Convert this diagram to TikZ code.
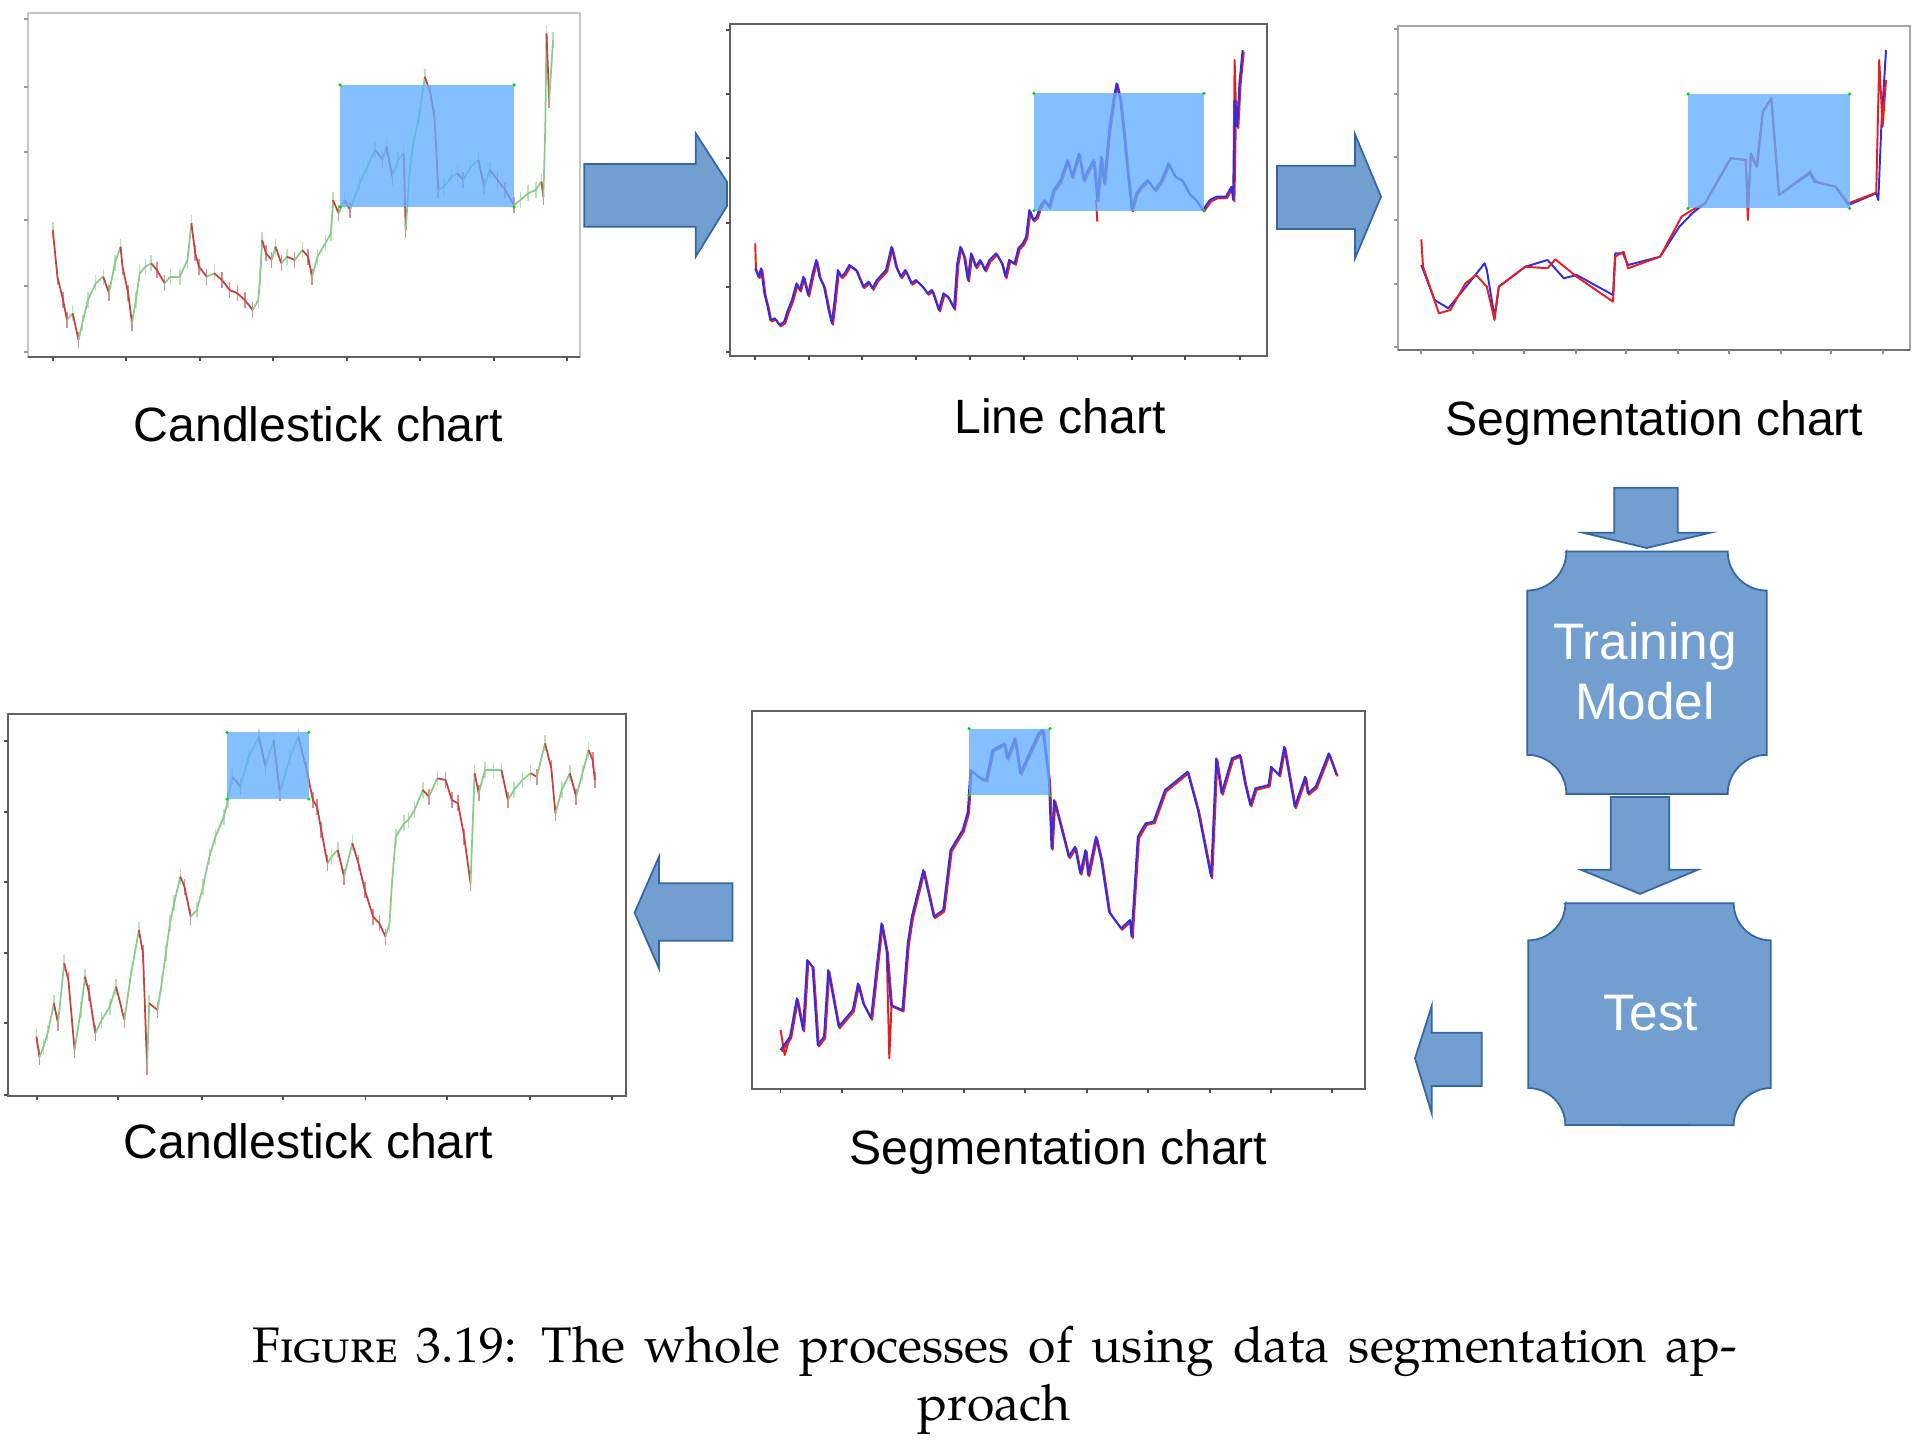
\documentclass[tikz,border=0pt]{standalone}
\usepackage{fontspec}
\setmainfont{Liberation Sans}
\newfontfamily\capfont{TeX Gyre Pagella}
\usetikzlibrary{positioning}

\definecolor{shapefill}{RGB}{114,159,207}
\definecolor{shapeline}{RGB}{52,101,164}
\definecolor{selblue}{RGB}{98,174,255}
\definecolor{candup}{RGB}{135,205,135}
\definecolor{candown}{RGB}{200,65,65}
\definecolor{predblue}{RGB}{45,45,235}
\definecolor{realred}{RGB}{232,30,30}

\tikzset{
  bigarrow/.style = {draw = shapeline, fill = shapefill, line width = 0.5pt},
  axisline/.style = {line width = 0.6pt},
  tick/.style = {draw = black!70, line width = 0.5pt},
  candle/.style = {line width = 0.5pt},
  wick/.style = {line width = 0.45pt, draw opacity = 0.6},
  blueline/.style = {draw = predblue, line width = 0.55pt, line join = round},
  redline/.style = {draw = realred, line width = 0.55pt, line join = round},
  chartlabel/.style = {font = \fontsize{13.7}{16}\selectfont, anchor = base, inner sep = 0pt},
  boxtext/.style = {font = \fontsize{14.6}{17}\selectfont, text = white, align = center, inner sep = 0pt},
  captext/.style = {font = \capfont\fontsize{14.2}{17}\selectfont, inner sep = 0pt}
}

% price data, in pixels of the figure
\def\candleA{52.8/230, 57.4/276.7, 63.1/300, 67/320, 72.7/313.3, 78.5/340, 82.3/323.3, 88/300, 95.7/283.3, 103.3/276.7, 109/293.3, 114.8/263.3, 120.6/246.7, 122.5/266.7, 128.2/293.3, 132/323.3, 135.9/300, 139.7/273.3, 145.4/266.7, 151.2/263.3, 156.9/270, 164.6/283.3, 170.3/276.7, 179.9/276.7, 187.5/260, 191.4/223.3, 195.2/253.3, 199/266.7, 206.7/276.7, 214.3/273.3, 222/280, 229.6/290, 237.3/293.3, 244.9/300, 252.6/310, 258.3/300, 260.2/276.7, 262.1/240, 266/253.3, 271.7/260, 275.5/246.7, 281.3/263.3, 287/256.7, 294.7/260, 302.3/250, 308.1/256.7, 311.9/276.7, 317.6/256.7, 325.3/243.3, 331/233.3, 333/200, 338.7/213.3, 344.4/200, 350.2/210, 359.7/183.3, 367.4/166.7, 375/150, 382.7/160, 386.5/146.7, 392.3/176.7, 398/160, 403.7/153.3, 405.7/230, 409.5/173.3, 413.3/143.3, 419/116.7, 424.8/76.7, 430.5/93.3, 434.4/116.7, 436.3/150, 438.2/190, 443.9/186.7, 451.6/176.7, 457.3/173.3, 463.1/180, 470.7/166.7, 478.4/160, 484.1/186.7, 489.9/170, 497.5/180, 505.2/190, 514/205, 520.5/200, 528.1/193.3, 535.8/190, 541.5/181.7, 543.4/196.7, 545.3/126.7, 546.5/33.3, 549.2/100, 553/40}

\def\lineB{758.4/276.7, 761.1/268.3, 764.3/293.3, 767.6/306.7, 770.3/320, 774.9/318.3, 779.5/325, 784.1/321.7, 787.3/311.7, 791.9/300, 796.5/283.3, 799.7/290, 803.4/276.7, 808/295, 812.6/273.3, 816.2/260, 819.4/276.7, 824/286.7, 828.6/310, 831.8/323.3, 834.6/300, 837.8/270, 841/276.7, 844.7/273.3, 849.3/265, 856.2/270, 863.1/286.7, 868.6/281.7, 872.3/288.3, 876.8/280, 881.4/275, 886/270, 891.5/246.7, 896.1/266.7, 900.7/276.7, 905.3/270, 911.3/283.3, 915.9/280, 922.8/286.7, 927.4/293.3, 932/290, 938.8/310, 943.4/293.3, 948/296.7, 954/308.3, 957.2/263.3, 960.4/246.7, 964.1/256.7, 967.8/280, 971/253.3, 975.6/266.7, 980.2/260, 984.8/270, 989.4/260, 996.2/253.3, 1001.8/263.3, 1005.4/276.7, 1009.1/260, 1014.6/263.3, 1018.3/248.3, 1022.9/243.3, 1026.1/236.7, 1029.3/210, 1033/220, 1036.7/216.7, 1039.9/206.7, 1044.5/200, 1049/206.7, 1053.6/190, 1060.5/180, 1067.4/160, 1072/176.7, 1078.9/153.3, 1083.5/180, 1088.1/170, 1093.6/160, 1097.3/200, 1101/156.7, 1104.1/183.3, 1108.7/133.3, 1113.3/100, 1116.6/83.3, 1120.2/100, 1123.9/133.3, 1127.1/166.7, 1131.7/210, 1136.3/193.3, 1140.9/186.7, 1147.8/180, 1154.7/190, 1161.6/180, 1168.4/163.3, 1175.3/176.7, 1182.2/180, 1189.1/193.3, 1196/200, 1202.9/210, 1209.8/200, 1216.7/196.7, 1225.8/196.7, 1231.4/186.7, 1233.2/200, 1235/100, 1237.1/126.7, 1239.4/83.3, 1242.6/50}

\def\segCblue{1434.6/300, 1448.3/308.3, 1463.3/290, 1474/276.7, 1484.6/263.3, 1486.8/270, 1494.5/316.7, 1498.8/286.7, 1525.3/266.7, 1547.5/260, 1563.8/278.3, 1576.6/275, 1613/295, 1615.2/253.3, 1622.9/253.3, 1628/265, 1660.1/256.7, 1679.3/226.7, 1692.2/213.3, 1705/203.3, 1722.1/173.3, 1730.7/158.3, 1745.7/160, 1747.8/206.7, 1750.8/153.3, 1757.2/166.7, 1762.8/111.7, 1771.3/98.3, 1779/195, 1809.9/173.3, 1814.1/181.7, 1835.5/186.7, 1848.4/205, 1876.2/193.3, 1878.3/200, 1881.3/126.7, 1886/50}

\def\segCred{1423/266.7, 1438.9/313.3, 1450.4/310, 1465.4/283.3, 1476.1/275, 1486.8/286.7, 1494.5/320, 1498.8/286.7, 1525.3/266.7, 1547.5/268.3, 1555.3/259.3, 1576.6/276.7, 1613/301.7, 1615.2/256.7, 1623.7/251.7, 1628/268.3, 1660.1/256.7, 1681.5/216.7, 1692.2/210, 1705/203.3, 1722.1/173.3, 1730.7/158.3, 1745.7/160, 1747.8/220, 1750.8/155, 1756.4/166.7, 1762.8/111.7, 1771.3/98.3, 1779/195, 1809.9/171.7, 1816.3/181.7, 1835.5/186.7, 1848.4/203.3, 1876.2/192.7, 1879.2/60, 1882.6/126.7, 1886/80}

\def\candleD{36.5/1036.7, 39.4/1056.7, 43.5/1046.7, 47.7/1033.3, 53.9/1003.3, 58/1023.3, 64.2/963.3, 68.4/980, 74.6/1050, 80.8/1010, 85/976.7, 89.1/993.3, 95.3/1033.3, 101.6/1020, 109.8/1006.7, 116.1/986.7, 124.4/1020, 130.6/976.7, 138.9/930, 143/953.3, 147.1/1066.7, 149.2/1003.3, 157.5/1010, 161.7/983.3, 165.8/953.3, 170/923.3, 174.1/903.3, 180.3/876.7, 184.5/886.7, 190.7/916.7, 196.9/910, 203.1/886.7, 209.3/856.7, 215.5/836.7, 223.8/816.7, 228/800, 232.1/776.7, 240.4/786.7, 248.7/756.7, 259.1/736.7, 265.3/766.7, 273.6/740, 279.8/793.3, 290.2/756.7, 298.4/736.7, 306.7/770, 312.9/800, 317.1/806.7, 321.2/830, 327.5/863.3, 331.6/856.7, 337.8/850, 344/876.7, 352.3/843.3, 358.5/863.3, 364.8/890, 373.1/916.7, 379.3/923.3, 385.5/936.7, 389.6/923.3, 391.7/886.7, 395.8/836.7, 404.1/823.3, 408.3/820, 414.5/810, 422.8/790, 429/796.7, 437.3/778.3, 445.6/780, 451.8/800, 458/803.3, 464.2/836.7, 470.5/883.3, 474.6/773.3, 478.7/793.3, 485/770, 493.3/770, 501.5/770, 507.8/800, 514/790, 522.3/780, 530.6/773.3, 536.8/776.7, 545.1/743.3, 551.3/768.3, 555.4/813.3, 561.7/790, 569.9/773.3, 576.2/796.7, 582.4/773.3, 588.6/750, 592.7/760, 594.8/780}

\def\segE{790/1036.7, 796.8/998.3, 803/1030, 807.2/960, 812.5/966.7, 817.7/1045, 824/1036.7, 828.2/970, 838.6/1026.7, 852.7/1010, 858/983.3, 863.2/1003.3, 871/1018.3, 881.5/923.3, 886.7/951.7, 890.9/1005, 902.4/1010, 907.7/943.3, 911.8/916.7, 923.3/870, 933.8/916.7, 943.2/910, 950.5/850, 962.6/830, 967.8/811.7, 970.4/770, 980.9/778.3, 986.1/780, 992.4/750, 1004.4/743.3, 1007/758.3, 1014.9/738.3, 1020.1/773.3, 1038.4/733.3, 1042.6/730, 1048.9/780, 1051.5/848.3, 1054.1/800, 1061.9/830, 1068.7/856.7, 1075/846.7, 1080.2/873.3, 1085.5/850, 1088.1/875, 1095.9/836.7, 1101.2/860, 1109/911.7, 1121/928.3, 1129.9/920, 1131.5/936.7, 1137.8/836.7, 1145.6/823.3, 1153.5/821.7, 1165/790, 1169.2/786.7, 1187.5/771.7, 1197.9/810, 1211/876.7, 1216.2/758.3, 1221.5/793.3, 1231.9/758.3, 1239.8/755, 1245/783.3, 1250.2/805, 1255.4/788.3, 1268.5/785, 1271.1/766.7, 1279/775, 1284.2/746.7, 1294.7/806.7, 1305.1/776.7, 1307.7/793.3, 1315.6/786.7, 1328.7/753.3, 1336.5/775}

\begin{document}
\begin{tikzpicture}[x = 0.01cm, y = -0.01cm]
  \useasboundingbox (0,0) rectangle (1931,1452);

  % chart frames
  \foreach \l/\t/\r/\b/\c in {27.6/13.3/580/356.7/black!22, 730/24/1267/356/black!62, 1397.8/25.7/1910.4/350/black!35, 8.3/714.3/626/1095.7/black!62, 752.3/711/1365.3/1089.3/black!62}
    \draw[axisline, draw = \c] (\l,\t) rectangle (\r,\b);
  \draw[axisline, draw = black!62] (27.6,356.7) -- (580,356.7);
  \draw[axisline, draw = black!55] (1397.8,350) -- (1910.4,350);

  % ticks
  \foreach \t in {52.8,126,200,273,347,420,494,567} \draw[tick] (\t,356.7) -- ++(0,4);
  \foreach \t in {755,809,862,916,970,1024,1077.5,1132,1185,1240} \draw[tick] (\t,356) -- ++(0,4);
  \foreach \t in {1421,1473,1524,1576,1626,1678,1729,1781,1831,1883} \draw[tick, draw = black!45] (\t,350) -- ++(0,4);
  \foreach \t in {37.3,118,202,283,365.6,447,530,612} \draw[tick] (\t,1095.7) -- ++(0,4);
  \foreach \t in {780.6,842.3,902.4,964,1025,1087,1148,1210,1271,1332} \draw[tick] (\t,1089.3) -- ++(0,4);
  \foreach \t in {19.3,86.7,152.3,220,286,352.3} \draw[tick, draw = black!40] (27.6,\t) -- ++(-4,0);
  \foreach \t in {30,94.3,158.3,222.7,287.3,351.7} \draw[tick] (730,\t) -- ++(-4,0);
  \foreach \t in {29.3,94.3,157.3,220,284.3,346.7} \draw[tick, draw = black!40] (1397.8,\t) -- ++(-4,0);
  \foreach \t in {740.7,812.3,882.3,953.3,1023.3,1095} \draw[tick] (8.3,\t) -- ++(-4,0);

  % candlestick charts
  \foreach \x/\y [remember = \x as \px (initially 52.8), remember = \y as \py (initially 230)] in \candleA {
    \ifdim \y pt > \py pt \def\cc{candown}\else\def\cc{candup}\fi
    \draw[candle, \cc] (\px,\py) -- (\x,\y);
    \draw[wick, \cc] (\x,\y-8) -- (\x,\y+8);
  }
  \foreach \x/\y [remember = \x as \px (initially 36.5), remember = \y as \py (initially 1036.7)] in \candleD {
    \ifdim \y pt > \py pt \def\cc{candown}\else\def\cc{candup}\fi
    \draw[candle, \cc] (\px,\py) -- (\x,\y);
    \draw[wick, \cc] (\x,\y-8) -- (\x,\y+8);
  }

  % line chart
  \draw[redline, shift = {(1.2,1.5)}] (755.2,268.3) foreach \x/\y in \lineB { -- (\x,\y) };
  \draw[redline] (755.2,243.3) -- (756,270);
  \draw[redline] (1096,200) -- (1097.3,221.7);
  \draw[redline] (1233.2,200) -- (1234.6,60) -- (1236.5,126);
  \draw[blueline] (755.2,268.3) foreach \x/\y in \lineB { -- (\x,\y) };

  % segmentation charts
  \draw[blueline] (1421.3,265) foreach \x/\y in \segCblue { -- (\x,\y) };
  \draw[redline] (1421.3,239.3) foreach \x/\y in \segCred { -- (\x,\y) };
  \draw[redline, shift = {(1.2,1.5)}] (780.6,1050) foreach \x/\y in \segE { -- (\x,\y) };
  \draw[redline] (780.6,1030) -- (784.7,1055) -- (790,1037);
  \draw[redline] (886.7,951.7) -- (889.3,1058.3) -- (891.5,1005);
  \draw[blueline] (780.6,1050) foreach \x/\y in \segE { -- (\x,\y) };

  % selected windows
  \foreach \l/\t/\r/\b in {340/85/514/207, 1034/93.3/1204/210.7, 1688/94/1849.7/208.3, 227/732.3/308.8/799, 969/728.7/1050/795.3} {
    \fill[selblue, fill opacity = 0.78] (\l,\t) rectangle (\r,\b);
    \foreach \u/\v in {\l/\t, \r/\t, \l/\b, \r/\b} \fill[green!85!black] (\u,\v) circle (0.5pt);
  }

  % block arrows
  \draw[bigarrow] (584.3,164) -- (695.7,164) -- (695.7,133.3) -- (727,182) -- (727,206) -- (695.7,256.7) -- (695.7,226.7) -- (584.3,226.7) -- cycle;
  \draw[bigarrow] (1277,165.7) -- (1355,165.7) -- (1355,134.3) -- (1381,196.7) -- (1355,258.3) -- (1355,229) -- (1277,229) -- cycle;
  \draw[bigarrow] (1614.3,487.7) -- (1677.7,487.7) -- (1677.7,532.8) -- (1710,532.8) -- (1646.7,548) -- (1583.3,532.8) -- (1614.3,532.8) -- cycle;
  \draw[bigarrow] (1610.7,797) -- (1669.3,797) -- (1669.3,869.8) -- (1697.7,869.8) -- (1640,893.9) -- (1581,869.8) -- (1610.7,869.8) -- cycle;
  \draw[bigarrow] (1481.7,1032.7) -- (1431.7,1032.7) -- (1431.7,1006) -- (1415,1058.3) -- (1431.7,1113.3) -- (1431.7,1086) -- (1481.7,1086) -- cycle;
  \draw[bigarrow] (732.4,883.3) -- (659,883.3) -- (659,856.7) -- (634.6,912.7) -- (659,968.3) -- (659,940.7) -- (732.4,940.7) -- cycle;

  % process boxes
  \draw[bigarrow] (1566.3,551.5) -- (1727.7,551.5) arc[start angle = 180, end angle = 270, radius = 0.39cm]
    -- (1766.7,754.9) arc[start angle = 90, end angle = 180, radius = 0.39cm]
    -- (1566.3,793.9) arc[start angle = 0, end angle = 90, radius = 0.39cm]
    -- (1527.3,590.5) arc[start angle = 270, end angle = 360, radius = 0.39cm] -- cycle;
  \draw[bigarrow] (1565.3,903.3) -- (1733.7,903.3) arc[start angle = 180, end angle = 270, radius = 0.37cm]
    -- (1770.7,1088.1) arc[start angle = 90, end angle = 180, radius = 0.37cm]
    -- (1565.3,1125.1) arc[start angle = 0, end angle = 90, radius = 0.37cm]
    -- (1528.3,940.3) arc[start angle = 270, end angle = 360, radius = 0.37cm] -- cycle;
  \node[boxtext] (training) at (1645,671) {Training\\Model};
  \node[boxtext, anchor = base] (test) at (1651,1030.5) {Test};

  % chart titles
  \node[chartlabel] (candleTop) at (318.5,441) {Candlestick chart};
  \node[chartlabel] (lineTop) at (1060,433.5) {Line chart};
  \node[chartlabel] (segTop) at (1654.5,435) {Segmentation chart};
  \node[chartlabel] (candleBottom) at (308.5,1158.3) {Candlestick chart};
  \node[chartlabel] (segBottom) at (1058.5,1164) {Segmentation chart};

  % caption
  \node[captext, anchor = base west] (caption) at (252,1362)
    {\makebox[14.84cm][s]{\textsc{Figure} 3.19:\enspace The whole processes of using data segmentation ap-}};
  \node[captext, anchor = base] (captionEnd) at (994,1420) {proach};
\end{tikzpicture}
\end{document}
